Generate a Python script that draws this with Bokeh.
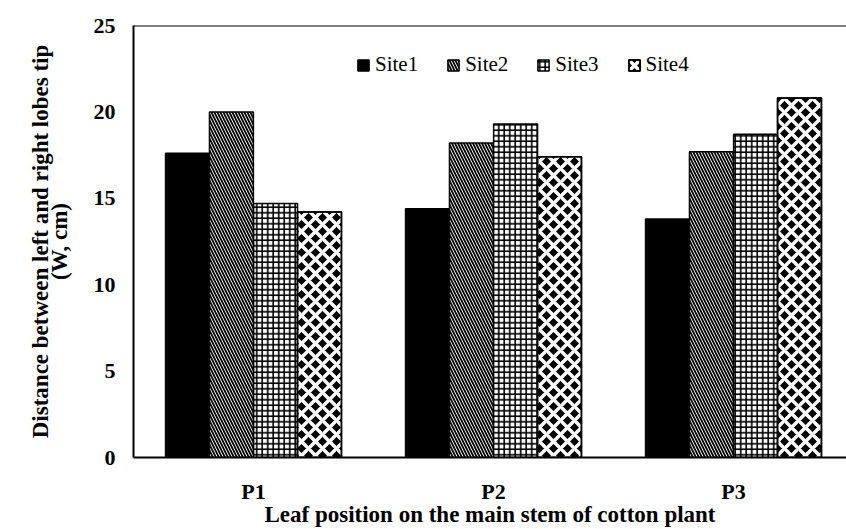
import base64
import struct
import zlib

from bokeh.plotting import figure
from bokeh.models import (Range1d, FixedTicker, Legend, LegendItem, Span, ColumnDataSource,
                          LinearAxis, ImageURLTexture)
from bokeh.embed import file_html
from bokeh.resources import INLINE

categories = ["P1", "P2", "P3"]
sites = ["Site1", "Site2", "Site3", "Site4"]
site1 = [17.6, 14.4, 13.8]
site2 = [20.0, 18.2, 17.7]
site3 = [14.7, 19.3, 18.7]
site4 = [14.2, 17.4, 20.8]
y_ticks = [0, 5, 10, 15, 20, 25]

series = [site1, site2, site3, site4]
offsets = [-0.275, -0.092, 0.092, 0.275]
bar_w = 0.183


def diamond_tile_png(s):
    rows = []
    for y in range(s):
        row = bytearray([0])
        for x in range(s):
            d = abs(x + 0.5 - s / 2) + abs(y + 0.5 - s / 2)
            row.append(0 if d < s / 2 else 255)
        rows.append(bytes(row))
    raw = b"".join(rows)

    def chunk(t, d):
        return struct.pack(">I", len(d)) + t + d + struct.pack(">I", zlib.crc32(t + d) & 0xFFFFFFFF)

    ihdr = struct.pack(">IIBBBBB", s, s, 8, 0, 0, 0, 0)
    data = (b"\x89PNG\r\n\x1a\n" + chunk(b"IHDR", ihdr) + chunk(b"IDAT", zlib.compress(raw))
            + chunk(b"IEND", b""))
    return "data:image/png;base64," + base64.b64encode(data).decode()


checker = ImageURLTexture(url=diamond_tile_png(14))

styles = [
    dict(fill_color="black"),
    dict(fill_color="white", hatch_pattern="left_diagonal_line", hatch_color="black",
         hatch_scale=6, hatch_weight=1.8),
    dict(fill_color="white", hatch_pattern="cross", hatch_color="black",
         hatch_scale=5.5, hatch_weight=1.6),
    dict(fill_color="black", hatch_pattern="diagonal_cross", hatch_color="white",
         hatch_scale=14, hatch_weight=3.5),
]

FONT = "Liberation Serif"

p = figure(width=846, height=529, output_backend="svg", toolbar_location=None,
           x_range=Range1d(0, (846 - 133) / 240), y_range=Range1d(0, 25),
           min_border_left=133, min_border_right=0, min_border_top=25, min_border_bottom=72)
p.outline_line_color = None
p.grid.visible = False
p.background_fill_color = "white"

xs_base = [i + 0.5 for i in range(len(categories))]
legend_items = []
for name, vals, off, st in zip(sites, series, offsets, styles):
    src = ColumnDataSource(dict(x=[b + off for b in xs_base], top=vals))
    r = p.vbar(x="x", top="top", width=bar_w, bottom=0, source=src,
               line_color="black", line_width=1.5, **st)
    rs = [r]
    if name == "Site4":
        r2 = p.vbar(x="x", top="top", width=bar_w, bottom=0, source=src,
                    line_color="black", line_width=1.5, fill_alpha=0,
                    hatch_pattern="checker", hatch_extra={"checker": checker})
        rs.append(r2)
    legend_items.append(LegendItem(label=name, renderers=rs))

legend = Legend(items=legend_items,
                orientation="horizontal", location=(223, 380),
                glyph_width=14, glyph_height=14, label_standoff=5, spacing=28,
                padding=0, margin=0, border_line_color=None, background_fill_alpha=0,
                label_text_font=FONT, label_text_font_size="21px", label_text_color="black")
p.add_layout(legend, "center")

p.xaxis.ticker = FixedTicker(ticks=xs_base)
p.xaxis.major_label_overrides = {x: c for x, c in zip(xs_base, categories)}
p.yaxis.ticker = FixedTicker(ticks=y_ticks)

for ax in (p.xaxis[0], p.yaxis[0]):
    ax.axis_line_width = 2
    ax.axis_line_color = "black"
    ax.major_tick_line_color = None
    ax.minor_tick_line_color = None
    ax.major_tick_out = 0
    ax.major_tick_in = 0
    ax.minor_tick_out = 0
    ax.major_label_text_font = FONT
    ax.major_label_text_font_style = "bold"
    ax.major_label_text_font_size = "22px"
    ax.major_label_text_color = "black"
    ax.axis_label_text_font = FONT
    ax.axis_label_text_font_style = "bold"
    ax.axis_label_text_font_size = "23px"
    ax.axis_label_text_color = "black"

p.yaxis.major_label_standoff = 18
p.yaxis.axis_label = "(W, cm)"
p.yaxis.axis_label_standoff = 19
p.xaxis.major_label_standoff = 21
p.xaxis.axis_label = "Leaf position on the main stem of cotton plant"
p.xaxis.axis_label_standoff = -5

outer = LinearAxis(ticker=FixedTicker(ticks=[]), axis_label="Distance between left and right lobes tip",
                   axis_line_color=None, major_tick_line_color=None, minor_tick_line_color=None,
                   major_tick_out=0, minor_tick_out=0, major_label_standoff=0,
                   axis_label_standoff=-9, axis_label_text_font=FONT,
                   axis_label_text_font_style="bold", axis_label_text_font_size="23px",
                   axis_label_text_color="black")
p.add_layout(outer, "left")

p.add_layout(Span(location=25, dimension="width", line_color="black", line_width=2))

open("out.html", "w").write(file_html(p, INLINE))
